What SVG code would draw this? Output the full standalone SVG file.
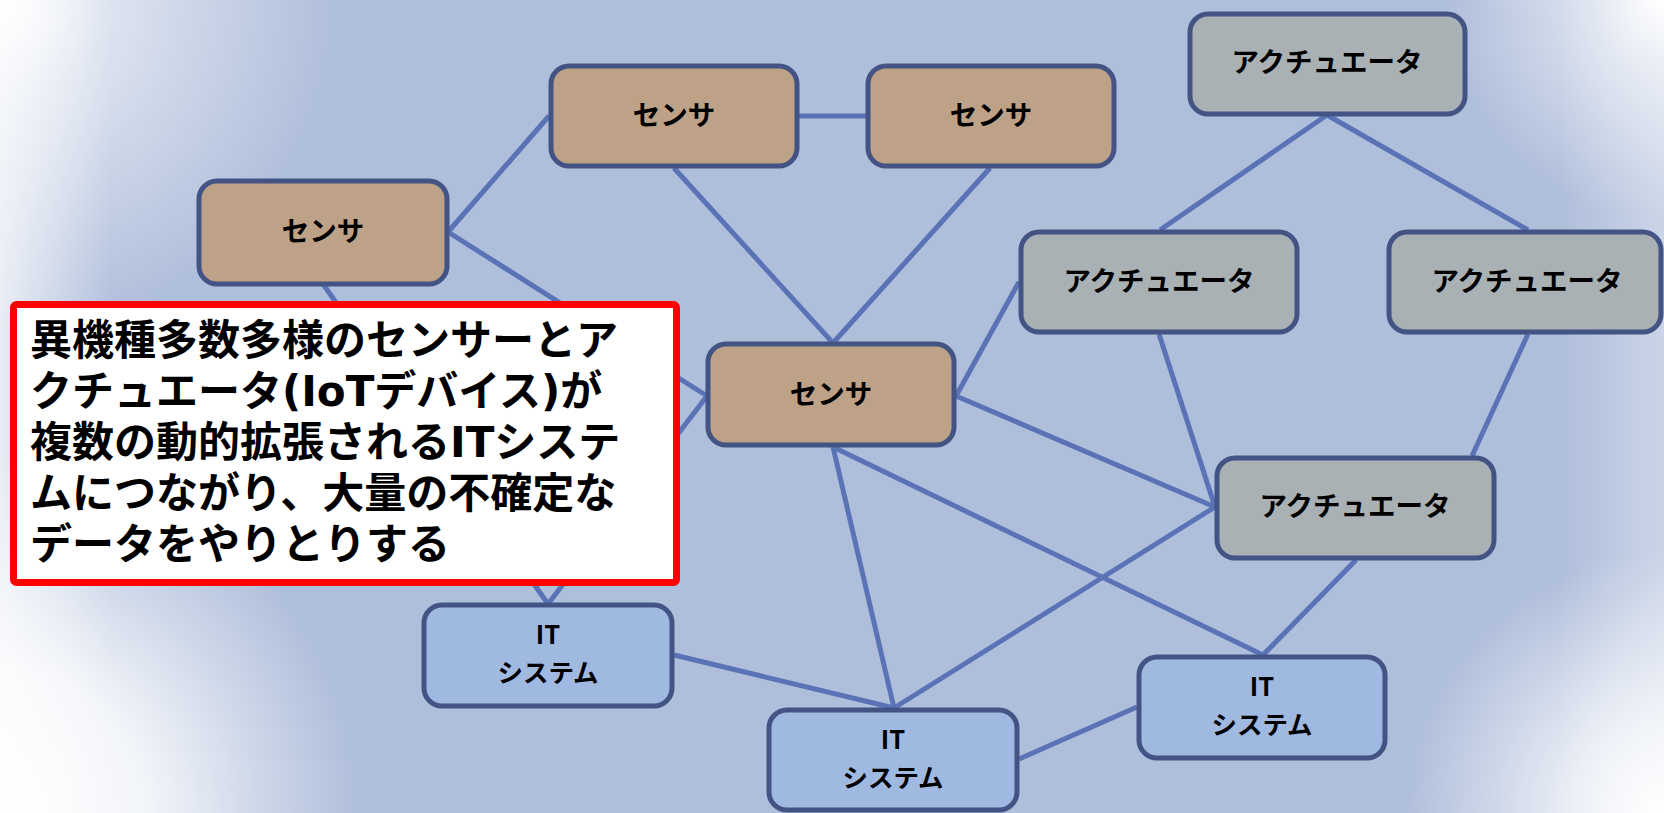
<svg xmlns="http://www.w3.org/2000/svg" width="1664" height="813" viewBox="0 0 1664 813">
<defs>
<style>
.n{stroke:#435484;stroke-width:5}
.s{fill:#BEA288}
.a{fill:#A9B1B4}
.i{fill:#A0B9E0}
.t{font-family:"Noto Sans CJK JP","Noto Sans",sans-serif;font-weight:bold;font-size:27.5px;fill:#000;text-anchor:middle}
.it{font-size:25.5px}
.c line{stroke:#5A73B6;stroke-width:5;stroke-linecap:butt}
.ct{font-family:"DejaVu Sans","Noto Sans CJK JP",sans-serif;font-weight:bold;font-size:42px;fill:#000}
</style>
<radialGradient id="gTL" cx="0" cy="0" r="340" gradientUnits="userSpaceOnUse"><stop offset="0" stop-color="#fff" stop-opacity="1"/><stop offset="0.3" stop-color="#fff" stop-opacity="0.6"/><stop offset="1" stop-color="#fff" stop-opacity="0"/></radialGradient>
<radialGradient id="gTR" cx="1664" cy="0" r="220" gradientUnits="userSpaceOnUse"><stop offset="0" stop-color="#fff" stop-opacity="1"/><stop offset="0.3" stop-color="#fff" stop-opacity="0.6"/><stop offset="1" stop-color="#fff" stop-opacity="0"/></radialGradient>
<radialGradient id="gBL" cx="0" cy="813" r="360" gradientUnits="userSpaceOnUse"><stop offset="0" stop-color="#fff" stop-opacity="1"/><stop offset="0.4" stop-color="#fff" stop-opacity="0.85"/><stop offset="1" stop-color="#fff" stop-opacity="0"/></radialGradient>
<radialGradient id="gBR" cx="1664" cy="813" r="260" gradientUnits="userSpaceOnUse"><stop offset="0" stop-color="#fff" stop-opacity="1"/><stop offset="0.35" stop-color="#fff" stop-opacity="0.75"/><stop offset="1" stop-color="#fff" stop-opacity="0"/></radialGradient>
<linearGradient id="gL" x1="0" y1="0" x2="110" y2="0" gradientUnits="userSpaceOnUse"><stop offset="0" stop-color="#fff" stop-opacity="0.7"/><stop offset="1" stop-color="#fff" stop-opacity="0"/></linearGradient>
<linearGradient id="gR" x1="1664" y1="0" x2="1560" y2="0" gradientUnits="userSpaceOnUse"><stop offset="0" stop-color="#fff" stop-opacity="0.35"/><stop offset="1" stop-color="#fff" stop-opacity="0"/></linearGradient>
</defs>
<g id="background">
<rect x="0" y="0" width="1664" height="813" fill="#AFBEDB"/>
<rect x="0" y="0" width="1664" height="813" fill="url(#gL)"/>
<rect x="0" y="0" width="1664" height="813" fill="url(#gR)"/>
<rect x="0" y="0" width="1664" height="813" fill="url(#gTL)"/>
<rect x="0" y="0" width="1664" height="813" fill="url(#gTR)"/>
<rect x="0" y="0" width="1664" height="813" fill="url(#gBL)"/>
<rect x="0" y="0" width="1664" height="813" fill="url(#gBR)"/>
</g>
<g id="connectors" class="c">
<line x1="448" y1="232" x2="549" y2="116"/>
<line x1="448" y1="232" x2="707" y2="396"/>
<line x1="323" y1="284" x2="548" y2="604"/>
<line x1="707" y1="396" x2="548" y2="604"/>
<line x1="674" y1="168" x2="833" y2="343"/>
<line x1="990" y1="168" x2="833" y2="343"/>
<line x1="799" y1="116" x2="866" y2="116"/>
<line x1="956" y1="396" x2="1019" y2="282"/>
<line x1="956" y1="396" x2="1215" y2="507"/>
<line x1="833" y1="447" x2="894" y2="708"/>
<line x1="833" y1="447" x2="1263" y2="655"/>
<line x1="1327" y1="115" x2="1160" y2="230"/>
<line x1="1327" y1="115" x2="1528" y2="230"/>
<line x1="1159" y1="334" x2="1215" y2="507"/>
<line x1="1528" y1="334" x2="1472" y2="456"/>
<line x1="1215" y1="507" x2="894" y2="708"/>
<line x1="1356" y1="560" x2="1263" y2="655"/>
<line x1="674" y1="655" x2="894" y2="708"/>
<line x1="1019" y1="759" x2="1137" y2="707"/>
</g>
<g id="sensor-a"><rect class="n s" x="199" y="181" width="248" height="103" rx="18"/><text class="t" x="323" y="241">センサ</text></g>
<g id="sensor-b"><rect class="n s" x="551" y="66" width="246" height="100" rx="18"/><text class="t" x="674" y="125">センサ</text></g>
<g id="sensor-c"><rect class="n s" x="868" y="66" width="246" height="100" rx="18"/><text class="t" x="991" y="125">センサ</text></g>
<g id="sensor-d"><rect class="n s" x="708" y="344" width="246" height="101" rx="18"/><text class="t" x="831" y="404">センサ</text></g>
<g id="actuator-top"><rect class="n a" x="1190" y="14" width="275" height="100" rx="18"/><text class="t" x="1327" y="72">アクチュエータ</text></g>
<g id="actuator-left"><rect class="n a" x="1021" y="232" width="276" height="100" rx="18"/><text class="t" x="1159" y="291">アクチュエータ</text></g>
<g id="actuator-right"><rect class="n a" x="1389" y="232" width="272" height="100" rx="18"/><text class="t" x="1527" y="291">アクチュエータ</text></g>
<g id="actuator-bottom"><rect class="n a" x="1217" y="458" width="277" height="100" rx="18"/><text class="t" x="1355" y="516">アクチュエータ</text></g>
<g id="it-a"><rect class="n i" x="424" y="605" width="248" height="101" rx="18"/><text class="t it" x="548" y="644"><tspan x="548">IT</tspan><tspan x="548" dy="37.5">システム</tspan></text></g>
<g id="it-b"><rect class="n i" x="769" y="710" width="248" height="100" rx="18"/><text class="t it" x="893" y="749"><tspan x="893">IT</tspan><tspan x="893" dy="37.5">システム</tspan></text></g>
<g id="it-c"><rect class="n i" x="1139" y="657" width="246" height="101" rx="18"/><text class="t it" x="1262" y="696"><tspan x="1262">IT</tspan><tspan x="1262" dy="37.5">システム</tspan></text></g>
<g id="callout">
<rect x="13.5" y="304.5" width="663" height="278" rx="3" fill="#fff" stroke="#FF0000" stroke-width="7"/>
<text class="ct" x="30" y="355">異機種多数多様のセンサーとア</text>
<text class="ct" x="30" y="406">クチュエータ(IoTデバイス)が</text>
<text class="ct" x="30" y="457">複数の動的拡張されるITシステ</text>
<text class="ct" x="30" y="508">ムにつながり、大量の不確定な</text>
<text class="ct" x="30" y="559">データをやりとりする</text>
</g>
</svg>
